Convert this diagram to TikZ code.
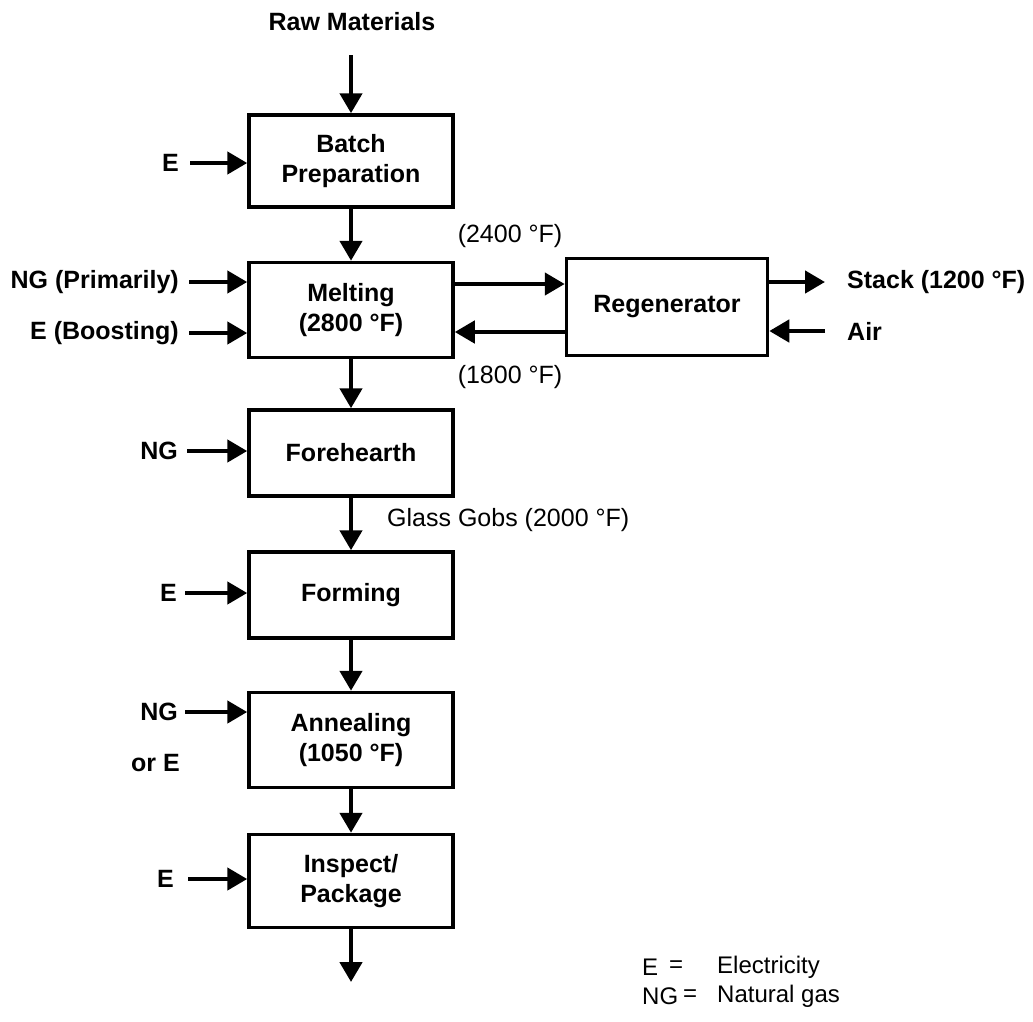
\documentclass[tikz,border=0pt]{standalone}
\usepackage{fontspec}
\setmainfont{Liberation Sans}
\usetikzlibrary{arrows.meta,calc}
\tikzset{
  procbox/.style={draw, line width=3.5pt, rectangle, inner sep=0pt, minimum width=204pt, align=center, font=\bfseries\fontsize{25}{30}\selectfont},
  arr/.style={line width=4.5pt, -{Triangle[length=20pt,width=22pt]}},
  blab/.style={inner sep=0pt, font=\bfseries\fontsize{25}{30}\selectfont},
  nlab/.style={inner sep=0pt, font=\fontsize{25}{30}\selectfont},
  leglab/.style={inner sep=0pt, font=\fontsize{24}{30}\selectfont}
}
\begin{document}
\begin{tikzpicture}[x=1pt,y=-1pt]
\useasboundingbox (0,0) rectangle (1033,1021);
% boxes
\node[procbox, minimum height=92pt] (batch) at (351,161) {Batch\\Preparation};
\node[procbox, minimum height=95pt] (melt) at (351,310) {Melting\\(2800 °F)};
\node[procbox, minimum height=86pt] (fore) at (351,453) {Forehearth};
\node[procbox, minimum height=86pt] (form) at (351,595) {Forming};
\node[procbox, minimum height=95pt] (anneal) at (351,740) {Annealing\\(1050 °F)};
\node[procbox, minimum height=93pt] (insp) at (351,881) {Inspect/\\Package};
\node[procbox, minimum width=201pt, minimum height=97pt] (regen) at (667,307) {Regenerator};
% top input
\node[blab] (raw) at (352,22) {Raw Materials};
\coordinate (rawend) at (351,55);
\draw[arr] (rawend) -- (batch.north);
% vertical flow
\draw[arr] (batch.south) -- (melt.north);
\draw[arr] (melt.south) -- (fore.north);
\draw[arr] (fore.south) -- (form.north);
\draw[arr] (form.south) -- (anneal.north);
\draw[arr] (anneal.south) -- (insp.north);
\coordinate (outend) at (351,982);
\draw[arr] (insp.south) -- (outend);
% left inputs
\node[blab, anchor=east] (e1) at (179,163) {E};
\draw[arr] ([xshift=11pt]e1.east) -- (e1.east -| batch.west);
\node[blab, anchor=east] (ng1) at (179,282) {NG (Primarily)};
\draw[arr] ([xshift=10pt]ng1.east) -- (ng1.east -| melt.west);
\node[blab, anchor=east] (e2) at (179,333) {E (Boosting)};
\draw[arr] ([xshift=10pt]e2.east) -- (e2.east -| melt.west);
\node[blab, anchor=east] (ng2) at (178,451) {NG};
\draw[arr] ([xshift=9pt]ng2.east) -- (ng2.east -| fore.west);
\node[blab, anchor=east] (e3) at (177,593) {E};
\draw[arr] ([xshift=8pt]e3.east) -- (e3.east -| form.west);
\node[blab, anchor=east] (ng3) at (178,712) {NG};
\draw[arr] ([xshift=7pt]ng3.east) -- (ng3.east -| anneal.west);
\node[blab, anchor=east] (ore) at (180,763) {or E};
\node[blab, anchor=east] (e4) at (174,879) {E};
\draw[arr] ([xshift=14pt]e4.east) -- (e4.east -| insp.west);
% melting <-> regenerator
\coordinate (m1) at ([yshift=26pt]melt.east);
\coordinate (m2) at ([yshift=-22pt]melt.east);
\draw[arr] (m1) -- (m1 -| regen.west);
\draw[arr] (m2 -| regen.west) -- (m2);
\node[nlab] (t2400) at (510,236) {(2400 °F)};
\node[nlab] (t1800) at (510,377) {(1800 °F)};
% regenerator outputs
\node[blab, anchor=west] (stack) at (847,282) {Stack (1200 °F)};
\node[blab, anchor=west] (air) at (847,331) {Air};
\coordinate (s1) at ([xshift=-22pt]stack.west);
\coordinate (a1) at ([xshift=-22pt]air.west);
\draw[arr] (s1 -| regen.east) -- (s1);
\draw[arr] (a1) -- (a1 -| regen.east);
% glass gobs
\node[nlab, anchor=west] (gobs) at (387,520) {Glass Gobs (2000 °F)};
% legend
\node[leglab, anchor=west] (lge) at (642,967) {E};
\node[leglab] (lgeq1) at (676,967) {=};
\node[leglab, anchor=west] (lgel) at (717,967) {Electricity};
\node[leglab, anchor=west] (lgng) at (642,996) {NG};
\node[leglab] (lgeq2) at (690,996) {=};
\node[leglab, anchor=west] (lgnat) at (717,996) {Natural gas};
\end{tikzpicture}
\end{document}
